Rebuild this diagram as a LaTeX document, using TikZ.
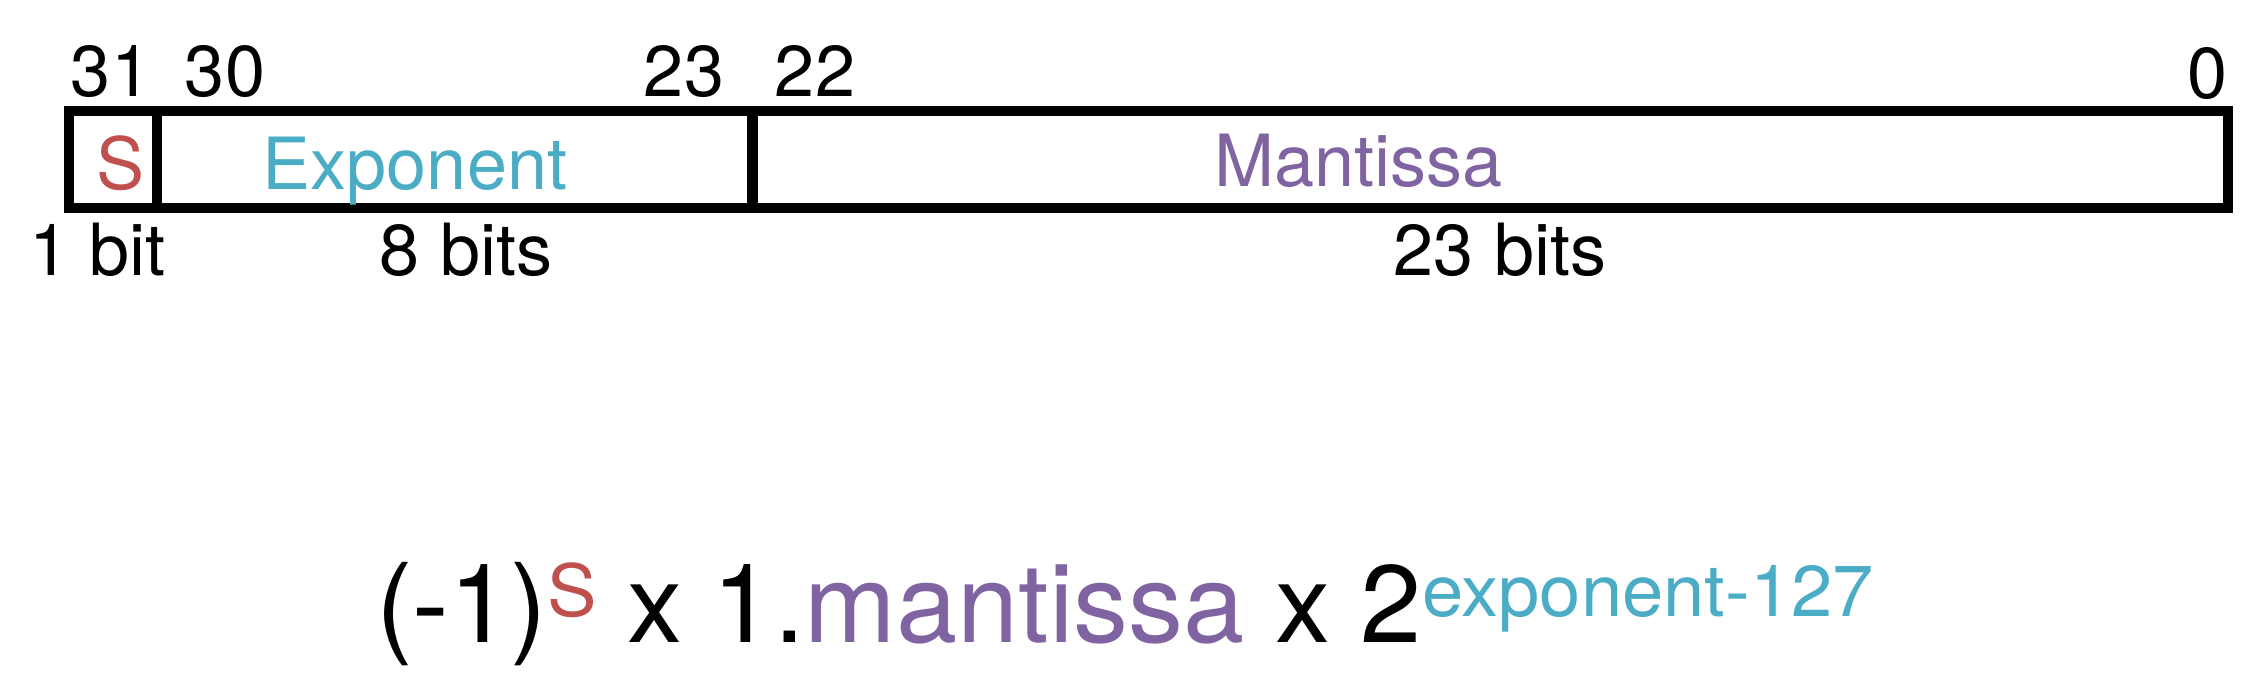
\documentclass[tikz,border=0pt]{standalone}
\usepackage{fontspec}
\setmainfont{TeX Gyre Heros}
\newfontfamily\supfam[FakeStretch=1.03]{TeX Gyre Heros}
\definecolor{sgncol}{HTML}{C0504D}
\definecolor{expcol}{HTML}{4BACC6}
\definecolor{mancol}{HTML}{8064A2}
\newcommand{\supfont}{\supfam\fontsize{36}{40}\selectfont}
\begin{document}
\begin{tikzpicture}[x=0.5pt,y=-0.5pt,
  cell/.style={draw=black, line width=5.3pt, minimum height=48.5pt, inner sep=0pt, outer sep=0pt, anchor=north west},
  txt/.style={inner sep=0pt, outer sep=0pt, anchor=base, font=\fontsize{36}{40}\selectfont},
  formula/.style={inner sep=0pt, outer sep=0pt, anchor=base, font=\fontsize{55}{60}\selectfont}
]
\useasboundingbox (0,0) rectangle (2258,676);
% cells
\node[cell, minimum width=44pt] (signcell) at (69,111) {};
\node[cell, minimum width=297.75pt] (expcell) at (157,111) {};
\node[cell, minimum width=737.75pt] (mancell) at (752.5,111) {};
% field names
\node[txt, text=sgncol] (sname) at (120.5,189) {S};
\node[txt, text=expcol] (ename) at (415,189) {Exponent};
\node[txt, text=mancol] (mname) at (1358.5,186) {Mantissa};
% bit numbers
\node[txt] (b31) at (111,96) {31};
\node[txt] (b30) at (225,96) {30};
\node[txt] (b23) at (684,96) {23};
\node[txt] (b22) at (815,96) {22};
\node[txt] (b0) at (2207,98) {0};
% widths
\node[txt] (w1) at (97.5,275) {1 bit};
\node[txt] (w8) at (466,275) {8 bits};
\node[txt] (w23) at (1500,275) {23 bits};
% formula
\node[formula] (form) at (1125,642) {(-1)\raisebox{13pt}{\supfont\textcolor{sgncol}{S}} x 1.\textcolor{mancol}{mantissa} x 2\raisebox{13pt}{\supfont\textcolor{expcol}{exponent-127}}};
\end{tikzpicture}
\end{document}
